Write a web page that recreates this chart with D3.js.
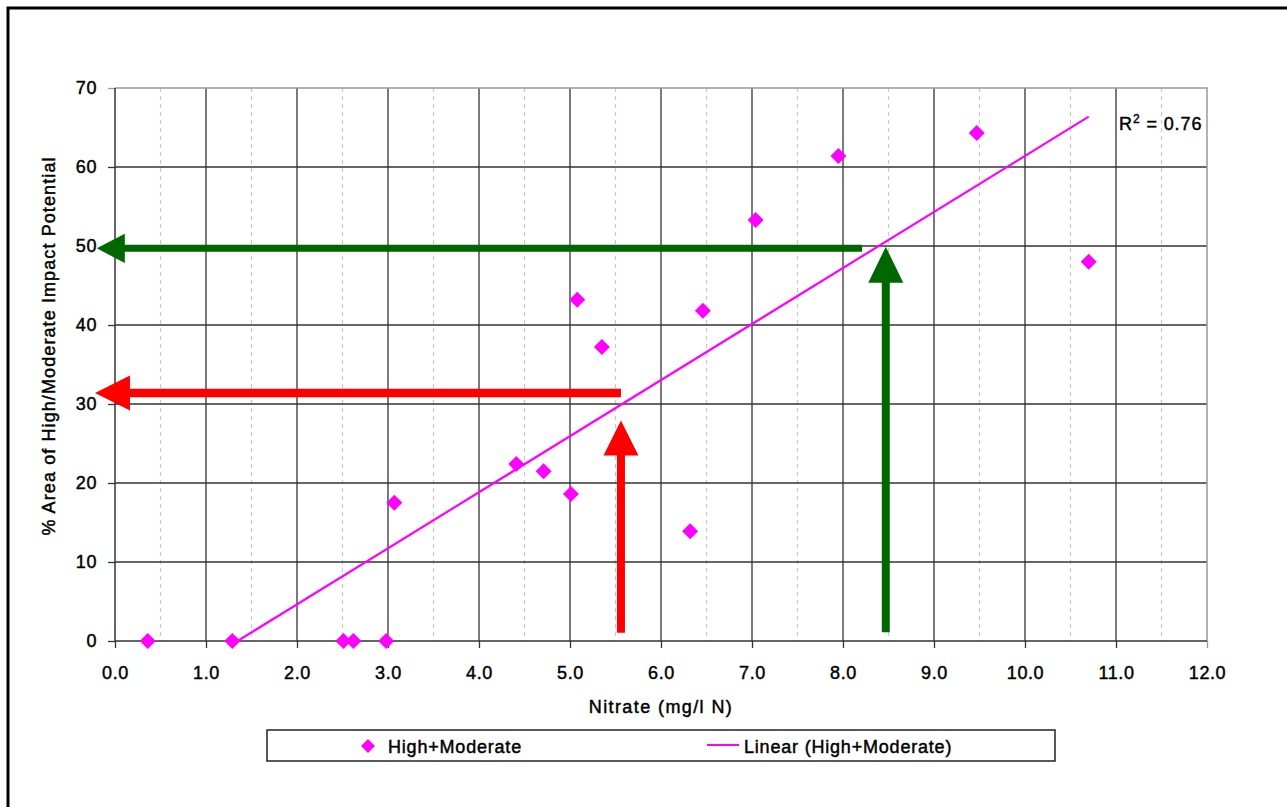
<!DOCTYPE html>
<html>
<head>
<meta charset="utf-8">
<script src="https://cdn.jsdelivr.net/npm/d3@7"></script>
<style>
  body { margin: 0; background: #fff; }
  text { font-family: "Liberation Sans", Arial, sans-serif; fill: #000; stroke: #000; stroke-width: 0.45px; }
</style>
</head>
<body>
<div id="chart"></div>
<script>
// nitrate (mg/l N) vs % area of high/moderate impact potential
const nitrate = [0.36, 1.29, 2.51, 2.62, 2.98, 3.07, 4.41, 4.71, 5.01, 5.08, 5.35, 6.32, 6.46, 7.04, 7.95, 9.47, 10.70];
const areaPct = [0, 0, 0, 0, 0, 17.5, 22.4, 21.5, 18.6, 43.2, 37.2, 13.9, 41.8, 53.3, 61.4, 64.3, 48.0];
const xTicks = d3.range(0, 12.01, 1);
const yTicks = d3.range(0, 70.01, 10);
const rSquaredLabel = "0.76";

// annotation arrows, in data units: [tailX, tailY, tipX, tipY]
const arrowColor = ["#006600", "#006600", "#ff0000", "#ff0000"];
const arrowLines = [
  [8.21, 49.7, -0.20, 49.7],
  [8.47, 1.1, 8.47, 49.9],
  [5.56, 31.4, -0.22, 31.4],
  [5.56, 1.05, 5.56, 27.9]
];
const arrowHead = [[28, 14.7, 7], [36, 17.5, 8], [35, 17.5, 8.5], [35, 17.5, 8]]; // length, half width, shaft

const w = 1287, h = 807;
const margin = {top: 88, right: 80, bottom: 166, left: 115};

const svg = d3.select("#chart").append("svg")
  .attr("width", w)
  .attr("height", h);

// outer frame (only top and left edges are inside the picture)
svg.append("rect")
  .attr("x", 8).attr("y", 8)
  .attr("width", 1400).attr("height", 1000)
  .attr("fill", "none").attr("stroke", "#000").attr("stroke-width", 3);

const xScale = d3.scaleLinear().domain([0, 12]).range([margin.left, w - margin.right]);
const yScale = d3.scaleLinear().domain([0, 70]).range([h - margin.bottom, margin.top]);

const x0 = xScale(0), x1 = xScale(12), y0 = yScale(0), y1 = yScale(70);

// minor dashed verticals
svg.append("g").selectAll("line")
  .data(d3.range(0.5, 12, 1))
  .enter().append("line")
  .attr("x1", d => xScale(d)).attr("x2", d => xScale(d))
  .attr("y1", y1).attr("y2", y0)
  .attr("stroke", "#c8c8c8").attr("stroke-width", 1.2)
  .attr("stroke-dasharray", "4,4");

// major grid
svg.append("g").selectAll("line")
  .data(xTicks.filter(d => d > 0 && d < 12))
  .enter().append("line")
  .attr("x1", d => xScale(d)).attr("x2", d => xScale(d))
  .attr("y1", y1).attr("y2", y0)
  .attr("stroke", "#333").attr("stroke-width", 1.3);
svg.append("g").selectAll("line")
  .data(yTicks.filter(d => d > 0 && d < 70))
  .enter().append("line")
  .attr("x1", x0).attr("x2", x1)
  .attr("y1", d => yScale(d)).attr("y2", d => yScale(d))
  .attr("stroke", "#333").attr("stroke-width", 1.3);

// top / right border in grey
svg.append("path")
  .attr("d", `M${x0},${y1}H${x1}V${y0}`)
  .attr("fill", "none").attr("stroke", "#999").attr("stroke-width", 1.5);

// axes
const xAxis = d3.axisBottom(xScale).tickValues(xTicks).tickFormat(d3.format(".1f"))
  .tickSize(7).tickSizeOuter(0).tickPadding(18);
const yAxis = d3.axisLeft(yScale).tickValues(yTicks).tickFormat(d3.format("d"))
  .tickSize(7).tickSizeOuter(0).tickPadding(11);

const xg = svg.append("g").attr("transform", `translate(0,${y0})`).call(xAxis);
const yg = svg.append("g").attr("transform", `translate(${x0},0)`).call(yAxis);
[xg, yg].forEach(g => {
  g.select(".domain").remove();
  g.selectAll(".tick line").attr("stroke", "#333").attr("stroke-width", 1.3);
  g.selectAll(".tick text")
    .style("font-family", '"Liberation Sans", Arial, sans-serif')
    .style("font-size", "18px")
    .style("letter-spacing", "0.6px")
    .attr("fill", "#000");
});
xg.selectAll(".tick line").filter(d => d === 12).attr("stroke", "#999");
yg.selectAll(".tick line").filter(d => d === 70).attr("stroke", "#999");

// axis lines
svg.append("line").attr("x1", x0).attr("x2", x1).attr("y1", y0).attr("y2", y0)
  .attr("stroke", "#333").attr("stroke-width", 1.5);
svg.append("line").attr("x1", x0).attr("x2", x0).attr("y1", y1).attr("y2", y0)
  .attr("stroke", "#333").attr("stroke-width", 1.5);

// axis titles
svg.append("text")
  .attr("x", (x0 + x1) / 2).attr("y", 713)
  .attr("text-anchor", "middle")
  .style("font-size", "18px").style("letter-spacing", "1.4px")
  .text("Nitrate (mg/l N)");
svg.append("text")
  .attr("transform", `translate(55,${346}) rotate(-90)`)
  .attr("text-anchor", "middle")
  .style("font-size", "18px").style("letter-spacing", "1.1px")
  .text("% Area of High/Moderate Impact Potential");

// linear trendline (least squares over the points)
const mx = d3.mean(nitrate), my = d3.mean(areaPct);
const sxy = d3.sum(nitrate, (x, i) => (x - mx) * (areaPct[i] - my));
const sxx = d3.sum(nitrate, x => (x - mx) * (x - mx));
const slope = sxy / sxx, intercept = my - slope * mx;
const trendX = d3.extent(nitrate);

svg.append("clipPath").attr("id", "plotClip")
  .append("rect").attr("x", x0).attr("y", y1).attr("width", x1 - x0).attr("height", y0 - y1);

const lineGenerator = d3.line()
  .x(d => xScale(d))
  .y(d => yScale(slope * d + intercept));
svg.append("path")
  .attr("clip-path", "url(#plotClip)")
  .attr("d", lineGenerator(trendX))
  .attr("fill", "none").attr("stroke", "#ff00ff").attr("stroke-width", 2.2);

// diamonds
const diamond = (cx, cy, r) => `M${cx},${cy - r}L${cx + r},${cy}L${cx},${cy + r}L${cx - r},${cy}Z`;
svg.append("g").selectAll("path")
  .data(nitrate)
  .enter().append("path")
  .attr("d", (d, i) => diamond(xScale(d), yScale(areaPct[i]), 8))
  .attr("fill", "#ff00ff");

// arrows
function arrowPath(a, hd) {
  const [tx, ty, px, py] = [xScale(a[0]), yScale(a[1]), xScale(a[2]), yScale(a[3])];
  const len = Math.hypot(px - tx, py - ty);
  const ux = (px - tx) / len, uy = (py - ty) / len; // direction
  const nx = -uy, ny = ux; // normal
  const [hl, hw, sw] = hd;
  const bx = px - ux * hl, by = py - uy * hl;
  const s = sw / 2;
  const pts = [
    [tx + nx * s, ty + ny * s], [bx + nx * s, by + ny * s], [bx + nx * hw, by + ny * hw],
    [px, py],
    [bx - nx * hw, by - ny * hw], [bx - nx * s, by - ny * s], [tx - nx * s, ty - ny * s]
  ];
  return "M" + pts.map(p => p.join(",")).join("L") + "Z";
}
svg.append("g").selectAll("path")
  .data(arrowLines)
  .enter().append("path")
  .attr("d", (d, i) => arrowPath(d, arrowHead[i]))
  .attr("fill", (d, i) => arrowColor[i]);

// R squared label
const rt = svg.append("text")
  .attr("x", 1119).attr("y", 130)
  .style("font-size", "18px").style("letter-spacing", "0.9px");
rt.append("tspan").text("R");
rt.append("tspan").attr("dy", -7).style("font-size", "12px").text("2");
rt.append("tspan").attr("dy", 7).text(" = " + rSquaredLabel);

// legend
const leg = svg.append("g");
leg.append("rect")
  .attr("x", 267).attr("y", 730).attr("width", 788).attr("height", 31)
  .attr("fill", "#fff").attr("stroke", "#222").attr("stroke-width", 1.5);
leg.append("path").attr("d", diamond(368, 746, 7)).attr("fill", "#ff00ff");
leg.append("text").attr("x", 388).attr("y", 753)
  .style("font-size", "18px").style("letter-spacing", "0.8px")
  .text("High+Moderate");
leg.append("line").attr("x1", 707).attr("x2", 739).attr("y1", 745).attr("y2", 745)
  .attr("stroke", "#ff00ff").attr("stroke-width", 2);
leg.append("text").attr("x", 744).attr("y", 753)
  .style("font-size", "18px").style("letter-spacing", "0.8px")
  .text("Linear (High+Moderate)");
</script>
</body>
</html>
